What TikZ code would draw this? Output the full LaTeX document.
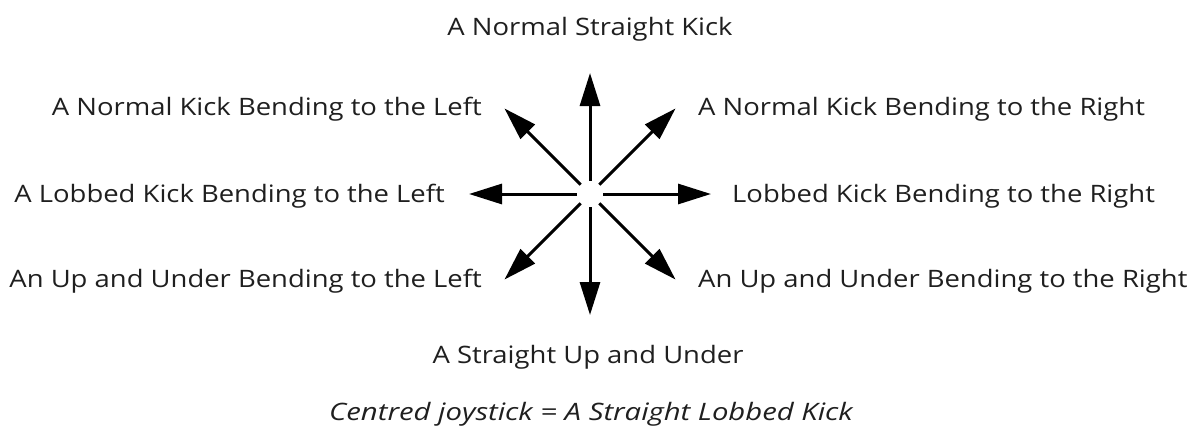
\documentclass[tikz,border=0pt]{standalone}
\usepackage{fontspec}
\setmainfont{Open Sans}[FakeStretch=1.143]
\newfontfamily\capfont{Open Sans}[FakeStretch=1.22]
\usetikzlibrary{arrows.meta,calc}
\begin{document}
\begin{tikzpicture}[x=1pt,y=-1pt,
  lbl/.style={inner sep=0pt,font=\fontsize{24}{28}\selectfont,text=black!88},
  arr/.style={line width=3pt,-{Triangle[length=33pt,width=20pt]}}]
\path[use as bounding box] (0,0) rectangle (1193,431);
\node[circle,minimum size=26pt,inner sep=0pt] (c) at (590,194) {};
\foreach \a/\n in {0/r,45/ur,90/u,135/ul,180/l,225/dl,270/d,315/dr}
  \coordinate (t\n) at ($(590,194)+({121*cos(\a)},{-121*sin(\a)})$);
\foreach \n in {r,ur,u,ul,l,dl,d,dr}
  \draw[arr] (c) -- (t\n);
\node[lbl,anchor=base] (top) at (590,35) {A Normal Straight Kick};
\node[lbl,anchor=base east] (ul) at (482,115) {A Normal Kick Bending to the Left};
\node[lbl,anchor=base east] (l) at (445,202) {A Lobbed Kick Bending to the Left};
\node[lbl,anchor=base east] (dl) at (482,287) {An Up and Under Bending to the Left};
\node[lbl,anchor=base west] (ur) at (698,115) {A Normal Kick Bending to the Right};
\node[lbl,anchor=base west] (r) at (732,202) {Lobbed Kick Bending to the Right};
\node[lbl,anchor=base west] (dr) at (698,287) {An Up and Under Bending to the Right};
\node[lbl,anchor=base] (bot) at (588,363) {A Straight Up and Under};
\node[lbl,anchor=base,font=\capfont\fontsize{24}{28}\selectfont\itshape] (cap) at (591,420) {Centred joystick = A Straight Lobbed Kick};
\end{tikzpicture}
\end{document}
